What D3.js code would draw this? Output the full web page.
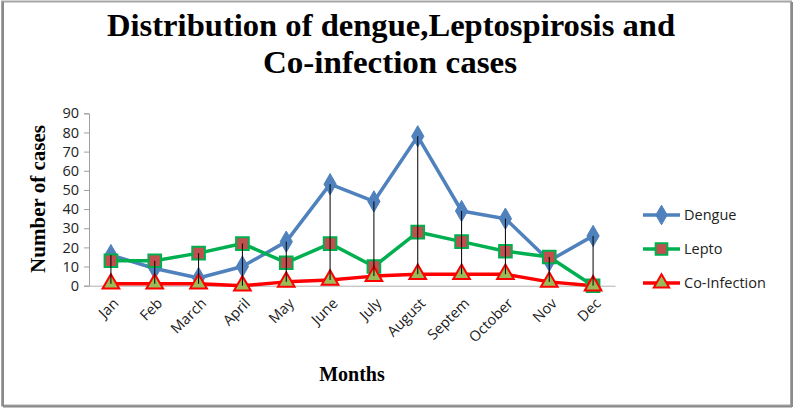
<!DOCTYPE html>
<html><head><meta charset="utf-8">
<script src="https://cdn.jsdelivr.net/npm/d3@7"></script>
<style>body{margin:0;background:#fff}</style>
</head><body>
<svg id="c" width="794" height="409"></svg>
<script>
const months = ["Jan","Feb","March","April","May","June","July","August","Septem","October","Nov","Dec"];
const dengue = [16,9,4,10,23,53,44,78,39,35,13,26];
const lepto = [13,13,17,22,12,22,10,28,23,18,15,0];
const coinf = [1,1,1,0,2,3,5,6,6,6,2,0];
const yTicks = [0,10,20,30,40,50,60,70,80,90];
const seriesNames = ["Dengue","Lepto","Co-Infection"];

const svg = d3.select("#c");
// frame
svg.append("rect").attr("x",2).attr("y",1.5).attr("width",789).attr("height",404)
  .attr("fill","#fff").attr("stroke","#a6a6a6").attr("stroke-width",2);
svg.append("line").attr("x1",3).attr("x2",3).attr("y1",2).attr("y2",406).attr("stroke","#8a8a8a").attr("stroke-width",2);
svg.append("line").attr("x1",792).attr("x2",792).attr("y1",2).attr("y2",407).attr("stroke","#8a8a8a").attr("stroke-width",2);
svg.append("line").attr("x1",3).attr("x2",792).attr("y1",406.5).attr("y2",406.5).attr("stroke","#8a8a8a").attr("stroke-width",2);

// title
const serif = "'Liberation Serif','Times New Roman',serif";
svg.append("text").attr("x",391).attr("y",36).attr("text-anchor","middle")
  .attr("font-family",serif).attr("font-weight","bold").attr("font-size",32)
  .attr("textLength",568).attr("lengthAdjust","spacingAndGlyphs")
  .text("Distribution of dengue,Leptospirosis and");
svg.append("text").attr("x",390).attr("y",73).attr("text-anchor","middle")
  .attr("font-family",serif).attr("font-weight","bold").attr("font-size",32)
  .attr("textLength",254).attr("lengthAdjust","spacingAndGlyphs")
  .text("Co-infection cases");

const x = d3.scaleBand().domain(months).range([89,615]);
const y = d3.scaleLinear().domain([0,90]).range([285.7,113.3]);
const cx = d => x(d) + x.bandwidth()/2;
const sans = "'Open Sans','Liberation Sans',sans-serif";

// y axis
const ya = svg.append("g").attr("transform","translate(89,0)")
  .call(d3.axisLeft(y).tickValues(yTicks).tickSize(5).tickPadding(5));
ya.select(".domain").attr("stroke","#a0a0a0");
ya.selectAll(".tick line").attr("stroke","#a0a0a0");
ya.selectAll("text").attr("font-family",sans).attr("font-size",14.5).attr("fill","#222");

// x axis
const xa = svg.append("g").attr("transform","translate(0,285.7)")
  .call(d3.axisBottom(x).tickSize(0).tickPadding(0));
xa.select(".domain").attr("stroke","#b0b0b0");
xa.selectAll("text").attr("font-family",sans).attr("font-size",14.5).attr("fill","#222")
  .attr("text-anchor","end").attr("dy","0.35em").attr("y",0)
  .attr("transform","translate(5,15) rotate(-45)");

// axis titles
svg.append("text").attr("transform","translate(45,199) rotate(-90)").attr("text-anchor","middle")
  .attr("font-family",serif).attr("font-weight","bold").attr("font-size",21).text("Number of cases");
svg.append("text").attr("x",352).attr("y",381).attr("text-anchor","middle")
  .attr("font-family",serif).attr("font-weight","bold").attr("font-size",20).text("Months");

const series = [
  {name:seriesNames[0], data:dengue, line:"#4F81BD", fill:"#4F81BD", stroke:"#4F81BD", sym:d3.symbolDiamond, size:130},
  {name:seriesNames[1], data:lepto, line:"#00B050", fill:"#C0504D", stroke:"#00B050", sym:d3.symbolSquare, size:160},
  {name:seriesNames[2], data:coinf, line:"#FF0000", fill:"#9BBB59", stroke:"#FF0000", sym:d3.symbolTriangle, size:120}
];
const line = d3.line().x((d,i)=>cx(months[i])).y(d=>y(d));
series.forEach(s=>{
  svg.append("path").datum(s.data).attr("d",line).attr("fill","none")
    .attr("stroke",s.line).attr("stroke-width",3.5).attr("stroke-linejoin","round");
});
series.forEach(s=>{
  svg.append("g").selectAll("path").data(s.data).join("path")
    .attr("transform",(d,i)=>`translate(${cx(months[i])},${y(d)})`)
    .attr("d",d3.symbol().type(s.sym).size(s.size))
    .attr("fill",s.fill).attr("stroke",s.stroke).attr("stroke-width",s.name==="Dengue"?1:2);
});
// high-low lines
svg.append("g").selectAll("line").data(months).join("line")
  .attr("x1",d=>cx(d)).attr("x2",d=>cx(d))
  .attr("y1",(d,i)=>y(Math.max(dengue[i],lepto[i],coinf[i])))
  .attr("y2",(d,i)=>y(Math.min(dengue[i],lepto[i],coinf[i])))
  .attr("stroke","#000").attr("stroke-width",1);

// legend
const lg = svg.append("g");
series.forEach((s,i)=>{
  const ly = 215 + i*34;
  lg.append("line").attr("x1",643).attr("x2",680).attr("y1",ly).attr("y2",ly)
    .attr("stroke",s.line).attr("stroke-width",3.5);
  lg.append("path").attr("transform",`translate(661.5,${ly})`)
    .attr("d",d3.symbol().type(s.sym).size(s.size*0.85))
    .attr("fill",s.fill).attr("stroke",s.stroke).attr("stroke-width",s.name==="Dengue"?1:2);
  lg.append("text").attr("x",684).attr("y",ly).attr("dy","0.35em")
    .attr("font-family",sans).attr("font-size",14.5).attr("fill","#222").text(s.name);
});
</script>
</body></html>
